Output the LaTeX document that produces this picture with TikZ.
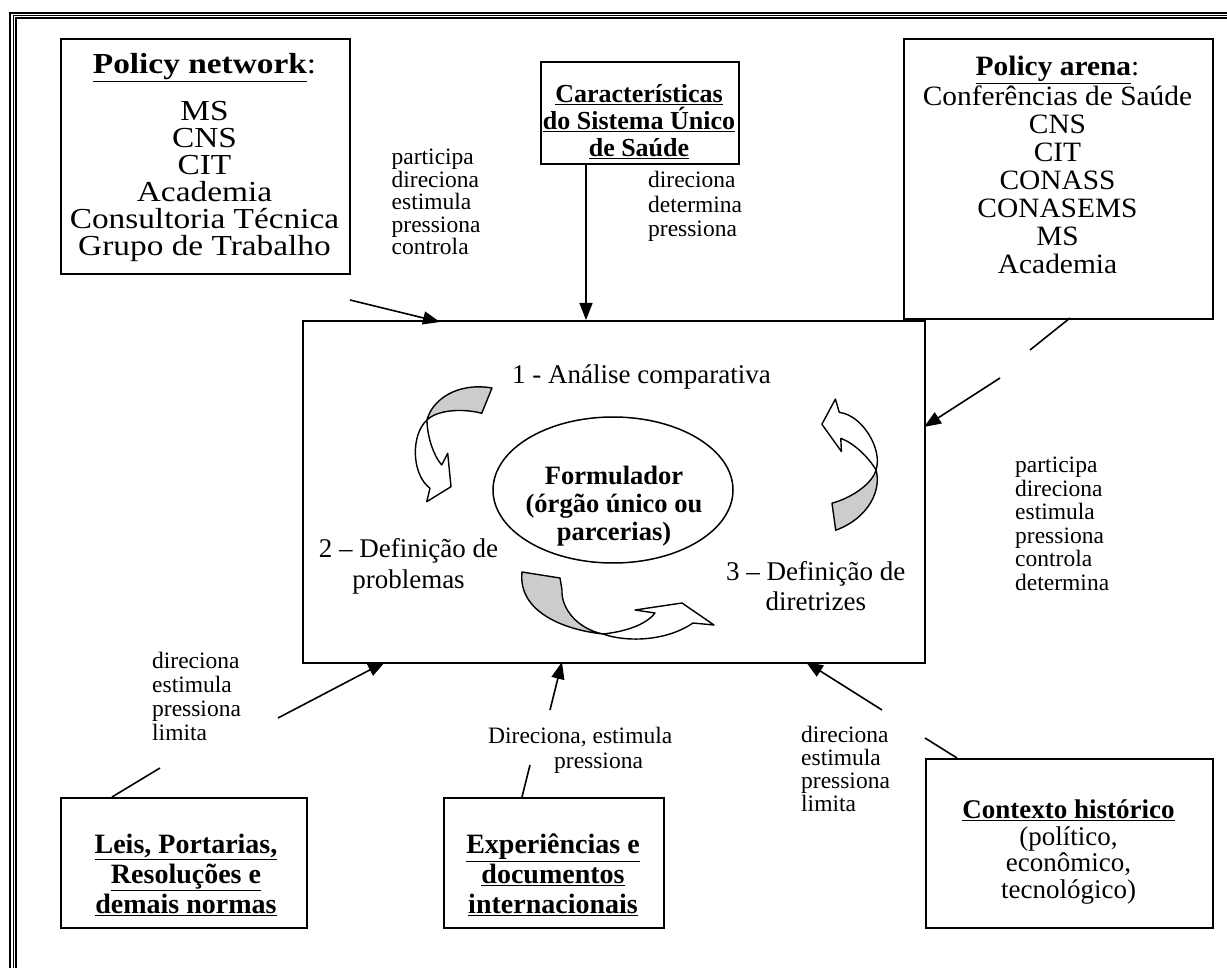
\documentclass[tikz,border=0pt]{standalone}
\usepackage{fontspec}
\setmainfont{Liberation Serif}
\newfontfamily\widefont[FakeStretch=1.15]{Liberation Serif}
\newfontfamily\semiwidefont[FakeStretch=1.05]{Liberation Serif}
\usetikzlibrary{arrows.meta,shapes.geometric}
\definecolor{ribbongray}{RGB}{204,204,204}
\newcommand\fsz[2]{\fontsize{#1}{#2}\selectfont\lineskiplimit=-100pt\lineskip=0pt}
\begin{document}
\begin{tikzpicture}[x=1pt,y=-1pt,
  box/.style={draw,line width=2.3pt,inner sep=0pt,anchor=north west},
  txt/.style={inner sep=0pt,align=center,anchor=north},
  lab/.style={inner sep=0pt,align=left,anchor=north west,font=\fsz{23.5}{23.3}},
  link/.style={line width=1.6pt},
  arr/.style={line width=1.6pt,-{Triangle[length=17pt,width=13pt]}},
  twistarrow/.pic={
    \filldraw[fill=ribbongray,line width=1.4pt,line join=round]
      (0,0) .. controls (5,-20) and (30,-38) .. (65,-32) -- (54.7,-6.7)
      .. controls (35,-12) and (10,-10) .. cycle;
    \filldraw[fill=white,line width=1.4pt,line join=round]
      (0,0) .. controls (-16,14) and (-16,54) .. (3,68.3) -- (-0.3,81.7)
      -- (24,66.7) -- (20.7,33.3) -- (14.7,45)
      .. controls (6,35) and (0,15) .. cycle;
  },
]
\useasboundingbox (0,0) rectangle (1227,968);
\clip (0,0) rectangle (1227,968);

% page frame (thick outer rule, two thin inner rules)
\draw[line width=2pt] (10,1000) -- (10,13) -- (1300,13);
\draw[line width=1pt] (13.3,1000) -- (13.3,15.6) -- (1300,15.6);
\draw[line width=1.3pt] (16,1000) -- (16,18) -- (1300,18);

% boxes
\node[box,minimum width=289pt,minimum height=235pt] (pn) at (60,38) {};
\node[box,minimum width=198pt,minimum height=102pt] (sus) at (540,61) {};
\node[box,minimum width=309pt,minimum height=280pt] (pa) at (903,38) {};
\node[box,minimum width=622pt,minimum height=342pt] (main) at (302,320) {};
\node[box,minimum width=246pt,minimum height=130pt] (leis) at (60,797) {};
\node[box,minimum width=220pt,minimum height=130pt] (exp) at (443,797) {};
\node[box,minimum width=287pt,minimum height=169pt] (ctx) at (925,758) {};

% box texts
\node[txt,font=\widefont\fsz{29}{27}] (pnt) at (204.5,53)
  {\underline{\textbf{Policy network}}:\\[20pt]MS\\CNS\\CIT\\Academia\\Consultoria Técnica\\Grupo de Trabalho};
\node[txt,font=\bfseries\fsz{26}{27}] (sust) at (639,84)
  {\underline{Características}\\\underline{do Sistema Único}\\\underline{de Saúde}};
\node[txt,font=\semiwidefont\fsz{28}{28}] (pat) at (1057.5,55.7)
  {\underline{\textbf{Policy arena}}:\\[2pt]Conferências de Saúde\\CNS\\CIT\\CONASS\\CONASEMS\\MS\\Academia};
\node[txt,font=\bfseries\fsz{28}{30}] (leist) at (186,833.7)
  {\underline{Leis, Portarias,}\\\underline{Resoluções e}\\\underline{demais normas}};
\node[txt,font=\bfseries\fsz{28}{30}] (expt) at (553,833.7)
  {\underline{Experiências e}\\\underline{documentos}\\\underline{internacionais}};
\node[txt,font=\fsz{27}{26.7}] (ctxt) at (1068.5,799.4)
  {\underline{\textbf{Contexto histórico}}\\(político,\\econômico,\\tecnológico)};

% inside the formulation box
\node[ellipse,draw,line width=1.5pt,minimum width=240pt,minimum height=146pt,inner sep=0pt] (form) at (613,490) {};
\node[txt,font=\bfseries\fsz{26.5}{28}] (formt) at (614,465.7)
  {Formulador\\(órgão único ou\\parcerias)};
\node[inner sep=0pt,anchor=base west,font=\fsz{27}{28}] (s1) at (512,384) {1 - Análise comparativa};
\node[txt,font=\fsz{27}{31}] (s2) at (408.5,538.4) {2 – Definição de\\problemas};
\node[txt,anchor=north west,font=\fsz{27}{30}] (s3) at (726,561.4) {3 – Definição de\\diretrizes};

\pic at (427,420) {twistarrow};
\pic[rotate=210] at (876,470) {twistarrow};
\filldraw[fill=ribbongray,line width=1.4pt,line join=round]
  (603,634) .. controls (558,629) and (518,609) .. (522,572) -- (560,578) -- (562,590)
  .. controls (561,609) and (578,629) .. cycle;
\filldraw[fill=white,line width=1.4pt,line join=round]
  (603,634) .. controls (625,642) and (665,642) .. (693,623) -- (714,625) -- (682,603)
  -- (635,610) -- (655,613) .. controls (645,626) and (622,632) .. cycle;

% influence labels
\node[lab,font=\fsz{23.5}{22.5}] (pnl) at (391.5,149) {participa\\direciona\\estimula\\pressiona\\controla};
\node[lab,font=\fsz{23.5}{24.5}] (susl) at (648,171) {direciona\\determina\\pressiona};
\node[lab,font=\fsz{23.5}{23.5}] (pal) at (1015,457) {participa\\direciona\\estimula\\pressiona\\controla\\determina};
\node[lab,font=\fsz{23.5}{24}] (leisl) at (152,652) {direciona\\estimula\\pressiona\\limita};
\node[lab,font=\fsz{23.5}{25}] (expl) at (488,726.5) {Direciona, estimula\\\hspace*{66pt}pressiona};
\node[lab,font=\fsz{23.5}{23}] (ctxl) at (801,726) {direciona\\estimula\\pressiona\\limita};

% connectors
\coordinate (pnA) at (350,300);  \coordinate (pnB) at (440,322);
\draw[arr] (pnA) -- (pnB);
\coordinate (susA) at (586,163); \coordinate (susB) at (586,320);
\draw[arr] (susA) -- (susB);
\coordinate (paA) at (1070,318); \coordinate (paB) at (1030,350);
\coordinate (paC) at (1000,378); \coordinate (paD) at (924,427);
\draw[link] (paA) -- (paB);
\draw[arr] (paC) -- (paD);
\coordinate (leA) at (112,797);  \coordinate (leB) at (160,768);
\coordinate (leC) at (278,718);  \coordinate (leD) at (385,662);
\draw[link] (leA) -- (leB);
\draw[arr] (leC) -- (leD);
\coordinate (exA) at (522,797);  \coordinate (exB) at (530,765);
\coordinate (exC) at (550,710);  \coordinate (exD) at (562,662);
\draw[link] (exA) -- (exB);
\draw[arr] (exC) -- (exD);
\coordinate (ctA) at (957,758);  \coordinate (ctB) at (925,738);
\coordinate (ctC) at (882,710);  \coordinate (ctD) at (806,662);
\draw[link] (ctA) -- (ctB);
\draw[arr] (ctC) -- (ctD);
\end{tikzpicture}
\end{document}
